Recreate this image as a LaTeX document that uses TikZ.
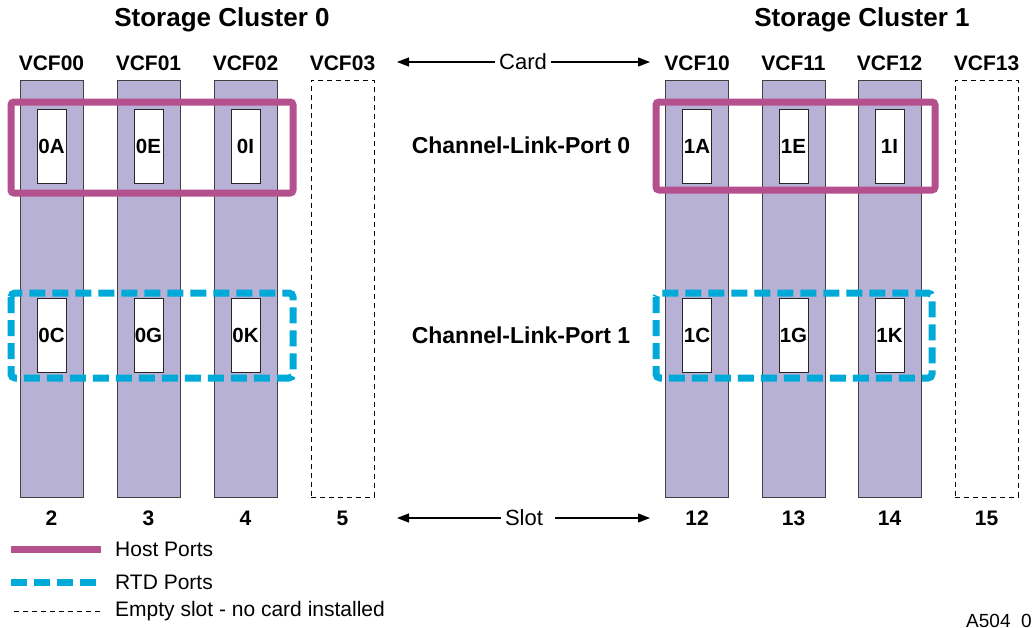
\documentclass[tikz,border=0pt]{standalone}
\usepackage{fontspec}
\setmainfont{Liberation Sans}
\usetikzlibrary{arrows.meta, calc, positioning}
\definecolor{cardfill}{HTML}{B8B1D6}
\definecolor{hostcol}{HTML}{B5508F}
\definecolor{rtdcol}{HTML}{00AAD8}

\tikzset{
  card/.style={draw=black!75, fill=cardfill, minimum width=63pt, minimum height=417pt, inner sep=0pt},
  emptycard/.style={draw, line width=0.9pt, dash pattern=on 5pt off 4pt, minimum width=63pt, minimum height=417pt, inner sep=0pt},
  port/.style={draw=black!85, fill=white, minimum width=29pt, minimum height=74pt, inner sep=0pt, font=\fontsize{20.5}{20.5}\selectfont\bfseries},
  lbl/.style={inner sep=0pt, font=\fontsize{21}{21}\selectfont\bfseries},
  title/.style={font=\fontsize{26}{26}\selectfont\bfseries},
  chan/.style={font=\fontsize{23}{23}\selectfont\bfseries},
  arrlbl/.style={inner sep=4pt, font=\fontsize{22}{22}\selectfont},
  legtext/.style={anchor=west, inner sep=0pt, font=\fontsize{21}{21}\selectfont},
  arr/.style={-{Triangle[length=12pt,width=9pt]}, line width=1.2pt},
  hostline/.style={draw=hostcol, line width=7pt, rounded corners=3pt},
  rtdline/.style={draw=rtdcol, line width=7pt, dash pattern=on 16pt off 7pt, rounded corners=4pt},
}

\begin{document}
\begin{tikzpicture}[x=1pt, y=-1pt]
\useasboundingbox (0,0) rectangle (1032,627);

% Cards and empty slots
\foreach \i/\x in {0/51.5, 1/148.5, 2/245.5}
    \node[card] (c0\i) at (\x,288.5) {};
\node[emptycard] (c03) at (342.5,288.5) {};
\foreach \i/\x in {0/697, 1/793.5, 2/889.5}
    \node[card] (c1\i) at (\x,288.5) {};
\node[emptycard] (c13) at (986.5,288.5) {};

% Card names
\foreach \c in {00, 01, 02, 03, 10, 11, 12, 13}
    \node[lbl, above=8.5pt of c\c] {VCF\c};

% Ports
\coordinate (hostrow) at (0,146.5);
\coordinate (rtdrow) at (0,335.5);
\foreach \c/\u/\l in {00/0A/0C, 01/0E/0G, 02/0I/0K, 10/1A/1C, 11/1E/1G, 12/1I/1K} {
    \node[port] (p\u) at (c\c |- hostrow) {\u};
    \node[port] (p\l) at (c\c |- rtdrow) {\l};
}

% Host and RTD groups
\draw[hostline] (11,102) rectangle (293,193);
\draw[hostline] (656,102) rectangle (935,190);
\draw[rtdline] (11,293) rectangle (293,378);
\draw[rtdline] (656,293) rectangle (932,378);

% Titles
\node[title] (sc0) at (222,20) {Storage Cluster 0};
\node[title] (sc1) at (862,20) {Storage Cluster 1};
\node[chan] (clp0) at (521,145) {Channel-Link-Port 0};
\node[chan] (clp1) at (521,335) {Channel-Link-Port 1};

% Card arrow
\node[arrlbl] (cardlbl) at (523,62) {Card};
\coordinate (cardL) at (397,62);
\coordinate (cardR) at (650,62);
\draw[arr] (cardlbl) -- (cardL);
\draw[arr] (cardlbl) -- (cardR);

% Slot numbers
\coordinate (slotrow) at (0,518);
\foreach \c/\n in {00/2, 01/3, 02/4, 03/5, 10/12, 11/13, 12/14, 13/15}
    \node[lbl] at (c\c |- slotrow) {\n};

% Slot arrow
\node[arrlbl] (slotlbl) at (524,518) {Slot};
\coordinate (slotL) at (397,518);
\coordinate (slotR) at (650,518);
\draw[arr] (slotlbl) -- (slotL);
\draw[arr] ([xshift=8pt]slotlbl.east) -- (slotR);

% Legend
\node[legtext] (leghost) at (115,549) {Host Ports};
\node[legtext] (legrtd) at (115,582) {RTD Ports};
\node[legtext] (legempty) at (115,611) {Empty slot - no card installed};
\draw[hostline] ([xshift=-14pt]leghost.west) -- ++(-90,0);
\draw[rtdline] ([xshift=-19pt]legrtd.west) -- ++(-85,0);
\draw[line width=0.9pt, dash pattern=on 5pt off 4pt] ([xshift=-15pt]legempty.west) -- ++(-89,0);

\node[anchor=base west, inner sep=0pt, font=\fontsize{19}{19}\selectfont] (figid) at (966,627.5) {A504\_06};
\end{tikzpicture}
\end{document}
